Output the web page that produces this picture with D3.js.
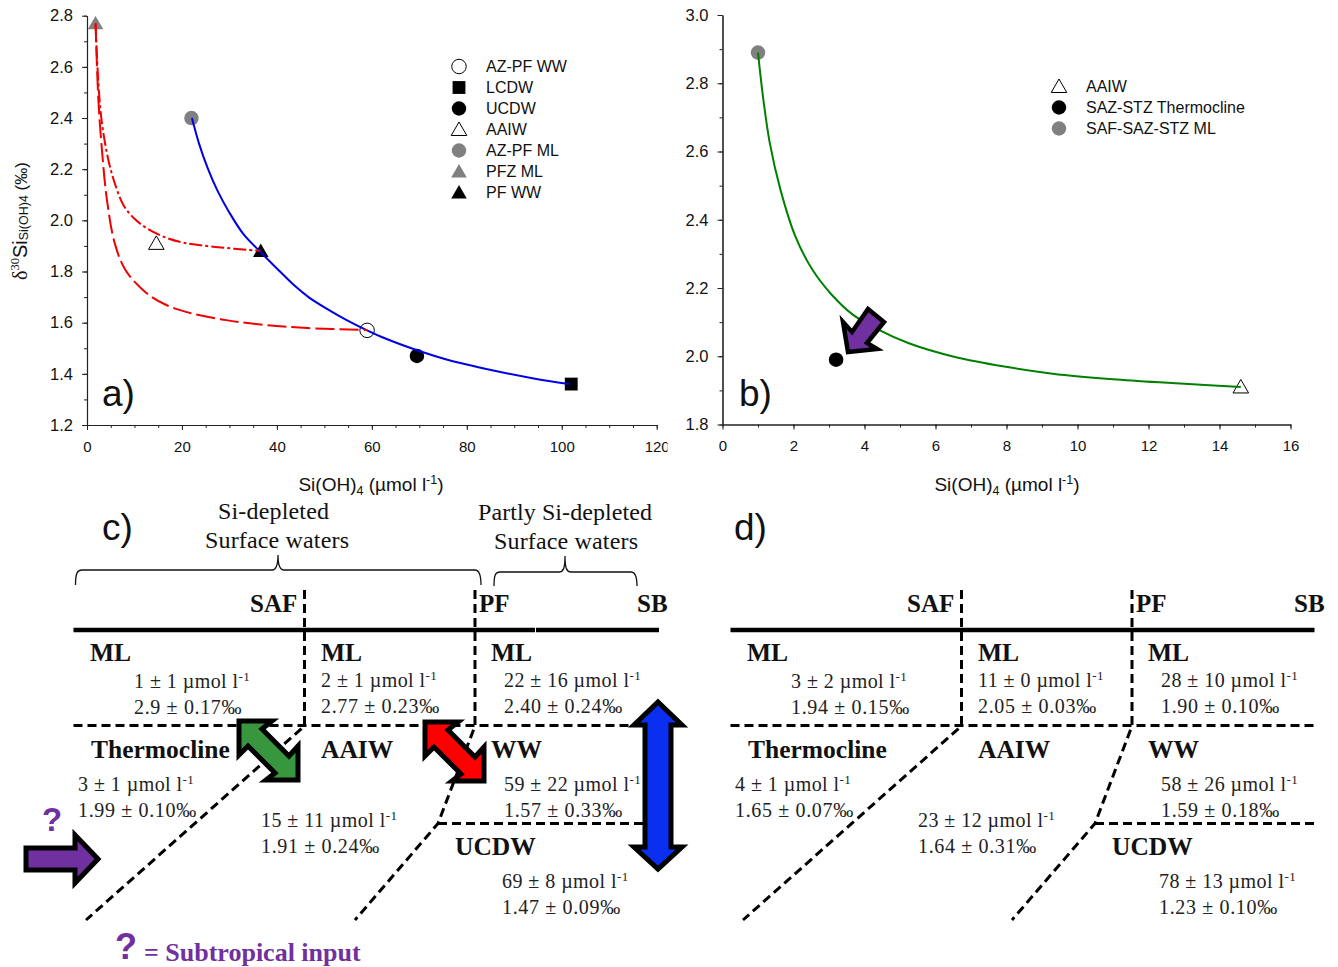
<!DOCTYPE html>
<html>
<head>
<meta charset="utf-8">
<script src="https://cdn.jsdelivr.net/npm/d3@7"></script>
<style>
body { margin: 0; background: #fff; }
svg { display: block; }
.sans { font-family: "Liberation Sans", Arial, sans-serif; }
.serif { font-family: "Liberation Serif", "Times New Roman", serif; }
</style>
</head>
<body>
<svg id="svg" width="1338" height="967"></svg>
<script>
// panel a values
var aBlueX = [22.1, 23.6, 25.4, 27.5, 30, 33, 36.5, 40.1, 43.7, 46.8, 50.9, 54.5, 59, 62.6, 69.4, 76.1, 85.1, 94.1, 101.5];
var aBlueY = [2.40, 2.30, 2.205, 2.115, 2.03, 1.945, 1.877, 1.81, 1.745, 1.698, 1.65, 1.612, 1.57, 1.54, 1.493, 1.454, 1.415, 1.382, 1.36];
var aDashDotX = [1.8, 2.4, 3.15, 4.5, 5.85, 7.66, 9.9, 12.6, 16.7, 20.3, 26.6, 36.5];
var aDashDotY = [2.77, 2.535, 2.38, 2.236, 2.145, 2.06, 2.008, 1.969, 1.932, 1.913, 1.897, 1.881];
var aDashX = [1.8, 2.4, 3.15, 4.2, 5.85, 8.1, 12.2, 16.7, 22.1, 29.3, 37.4, 46.4, 59];
var aDashY = [2.77, 2.47, 2.275, 2.08, 1.91, 1.806, 1.721, 1.669, 1.636, 1.61, 1.591, 1.579, 1.571];

var aNames = ["AZ-PF WW", "LCDW", "UCDW", "AAIW", "AZ-PF ML", "PFZ ML", "PF WW"];
var aPointX = [59, 102, 69.5, 14.6, 22, 1.8, 36.6];
var aPointY = [1.57, 1.36, 1.47, 1.91, 2.40, 2.77, 1.88];
var aShapes = ["circle", "square", "circle", "triangle", "circle", "triangle", "triangle"];
var aFills = ["none", "black", "black", "none", "gray", "gray", "black"];

// panel b values
var bGreenX = [1, 1.15, 1.33, 1.63, 2.05, 2.53, 3.07, 3.67, 4.39, 5.23, 6.55, 7.99, 9.3, 11.1, 12.9, 14.6];
var bGreenY = [2.89, 2.753, 2.626, 2.489, 2.352, 2.254, 2.181, 2.122, 2.078, 2.039, 1.998, 1.969, 1.949, 1.932, 1.92, 1.91];
var bNames = ["AAIW", "SAZ-STZ Thermocline", "SAF-SAZ-STZ ML"];
var bPointX = [14.6, 3.2, 1];
var bPointY = [1.91, 1.99, 2.89];
var bShapes = ["triangle", "circle", "circle"];
var bFills = ["none", "black", "gray"];

// schematics c and d
var waterNames = ["ML", "ML", "ML", "Thermocline", "AAIW", "WW", "UCDW"];
var frontNames = ["SAF", "PF", "SB"];
var cSilicate = ["1 ± 1", "2 ± 1", "22 ± 16", "3 ± 1", "15 ± 11", "59 ± 22", "69 ± 8"];
var cIsotope = ["2.9 ± 0.17‰", "2.77 ± 0.23‰", "2.40 ± 0.24‰", "1.99 ± 0.10‰", "1.91 ± 0.24‰", "1.57 ± 0.33‰", "1.47 ± 0.09‰"];
var dSilicate = ["3 ± 2", "11 ± 0", "28 ± 10", "4 ± 1", "23 ± 12", "58 ± 26", "78 ± 13"];
var dIsotope = ["1.94 ± 0.15‰", "2.05 ± 0.03‰", "1.90 ± 0.10‰", "1.65 ± 0.07‰", "1.64 ± 0.31‰", "1.59 ± 0.18‰", "1.23 ± 0.10‰"];

var svg = d3.select("#svg");
var symbolTypes = { circle: d3.symbolCircle, square: d3.symbolSquare, triangle: d3.symbolTriangle };
var symbolSizes = { circle: 165, square: 165, triangle: 105 };

function marker(g, shape, fill, x, y) {
  g.append("path")
    .attr("d", d3.symbol().type(symbolTypes[shape]).size(symbolSizes[shape])())
    .attr("transform", "translate(" + x + "," + (shape == "triangle" ? y + 1.5 : y) + ")")
    .attr("fill", fill == "none" ? "none" : (fill == "gray" ? "#808080" : "#000"))
    .attr("stroke", fill == "none" ? "#000" : "none")
    .attr("stroke-width", 1);
}

function drawAxes(x, y, xMajor, xMinor, yMajor, yMinor, yFmt) {
  var g = svg.append("g").attr("class", "sans");
  var bottom = y.range()[0], left = x.range()[0];
  var xa = g.append("g").attr("transform", "translate(0," + bottom + ")")
    .call(d3.axisBottom(x).tickValues(xMajor).tickSize(5).tickPadding(11).tickSizeOuter(0));
  g.append("g").attr("transform", "translate(0," + bottom + ")")
    .call(d3.axisBottom(x).tickValues(xMinor).tickSize(3).tickFormat("").tickSizeOuter(0));
  var ya = g.append("g").attr("transform", "translate(" + left + ",0)")
    .call(d3.axisLeft(y).tickValues(yMajor).tickFormat(yFmt).tickSize(5).tickPadding(9).tickSizeOuter(0));
  g.append("g").attr("transform", "translate(" + left + ",0)")
    .call(d3.axisLeft(y).tickValues(yMinor).tickSize(3).tickFormat("").tickSizeOuter(0));
  xa.selectAll("text").attr("font-size", 15);
  ya.selectAll("text").attr("font-size", 16.5);
  g.selectAll("text").attr("fill", "#111");
  g.selectAll("path.domain").attr("stroke", "#222").attr("stroke-width", 1.1);
  g.selectAll("line").attr("stroke", "#222");
}

function xTitle(cx) {
  var t = svg.append("text").attr("class", "sans").attr("x", cx).attr("y", 491)
    .attr("text-anchor", "middle").attr("font-size", 19).attr("fill", "#111");
  t.append("tspan").text("Si(OH)");
  t.append("tspan").attr("font-size", 12.5).attr("dy", 4).text("4");
  t.append("tspan").attr("dy", -4).text(" (µmol l");
  t.append("tspan").attr("font-size", 12.5).attr("dy", -7).text("-1");
  t.append("tspan").attr("dy", 7).text(")");
}

function curve(x, y, xs, ys, color, dash) {
  var pts = d3.zip(xs, ys);
  svg.append("path").datum(pts)
    .attr("d", d3.line().x(function(d) { return x(d[0]); }).y(function(d) { return y(d[1]); }).curve(d3.curveCatmullRom.alpha(0.5)))
    .attr("fill", "none").attr("stroke", color).attr("stroke-width", 2)
    .attr("stroke-dasharray", dash);
}

function points(x, y, xs, ys, shapes, fills) {
  var g = svg.append("g");
  xs.forEach(function(v, i) { marker(g, shapes[i], fills[i], x(v), y(ys[i])); });
}

function legend(names, shapes, fills, sx, tx, top) {
  var g = svg.append("g").attr("class", "sans");
  names.forEach(function(n, i) {
    marker(g, shapes[i], fills[i], sx, top + i * 21);
    g.append("text").attr("x", tx).attr("y", top + i * 21 + 5.5).attr("font-size", 16).attr("fill", "#111").text(n);
  });
}

function panelLetter(txt, x, y) {
  svg.append("text").attr("class", "sans").attr("x", x).attr("y", y).attr("font-size", 37).attr("fill", "#111").text(txt);
}

// panel a
var xA = d3.scaleLinear().domain([0, 120]).range([87, 656.7]);
var yA = d3.scaleLinear().domain([1.2, 2.8]).range([425, 15.7]);
drawAxes(xA, yA, d3.range(0, 121, 20), d3.range(0, 121, 5), d3.range(1.2, 2.81, 0.2), d3.range(1.2, 2.81, 0.1), d3.format(".1f"));
points(xA, yA, aPointX, aPointY, aShapes, aFills);
curve(xA, yA, aBlueX, aBlueY, "#0000e6", null);
curve(xA, yA, aDashDotX, aDashDotY, "#f00000", "13,3,3,3");
curve(xA, yA, aDashX, aDashY, "#f00000", "19,5");
legend(aNames, aShapes, aFills, 459, 486, 66.5);
xTitle(371);
panelLetter("a)", 102, 406);

// the last tick label is cut by the panel edge in the figure
svg.append("rect").attr("x", 667.5).attr("y", 438).attr("width", 12).attr("height", 20).attr("fill", "#fff");

var yt = svg.append("text").attr("class", "sans")
  .attr("transform", "translate(27,280) rotate(-90)")
  .attr("font-size", 20).attr("fill", "#111");
yt.append("tspan").attr("class", "serif").text("δ");
yt.append("tspan").attr("class", "serif").attr("font-size", 12.5).attr("dy", -8).text("30");
yt.append("tspan").attr("dy", 8).text("Si");
yt.append("tspan").attr("font-size", 12.5).attr("dy", 1).text("Si(OH)4");
yt.append("tspan").attr("dy", -1).attr("font-size", 17).text(" (‰)");

// panel b
var xB = d3.scaleLinear().domain([0, 16]).range([722.5, 1290.5]);
var yB = d3.scaleLinear().domain([1.8, 3.0]).range([424.5, 15]);
drawAxes(xB, yB, d3.range(0, 17, 2), d3.range(0, 17, 1), d3.range(1.8, 3.01, 0.2), d3.range(1.8, 3.01, 0.1), d3.format(".1f"));
points(xB, yB, bPointX, bPointY, bShapes, bFills);
curve(xB, yB, bGreenX, bGreenY, "#008000", null);
legend(bNames, bShapes, bFills, 1059, 1086, 86.5);
xTitle(1007);
panelLetter("b)", 739, 406);

// purple arrow over the green curve
svg.append("polygon")
  .attr("points", "843,322 852,332 868,309 884,322 867,343 877,349 848,352")
  .attr("fill", "#7030a0").attr("stroke", "#000").attr("stroke-width", 4.5);

// schematic panels, d is c moved right
var waterSlots = [[90, 661], [321, 661], [491, 661], [91, 758], [321, 758], [491, 758], [455, 855]];
var frontSlots = [250, 479, 637];
var valueSlots = [[134, 688], [321, 687], [504, 687], [78, 791], [261, 827], [504, 791], [502, 888]];

function schematic(dx, silicate, isotope, ruleBreak) {
  var g = svg.append("g").attr("transform", "translate(" + dx + ",0)").attr("class", "serif");

  function dashed(d) {
    g.append("path").attr("d", d).attr("fill", "none").attr("stroke", "#000")
      .attr("stroke-width", 3).attr("stroke-dasharray", "9,5");
  }
  g.append("line").attr("x1", 73.5).attr("x2", ruleBreak ? 659 : 657.5).attr("y1", 630).attr("y2", 630)
    .attr("stroke", "#000").attr("stroke-width", 4.5);
  if (ruleBreak) {
    g.append("line").attr("x1", 535.5).attr("x2", 535.5).attr("y1", 627).attr("y2", 633)
      .attr("stroke", "#fff").attr("stroke-width", 1);
  }
  dashed("M73.5,725.5H657");
  dashed("M438,823.5H657");
  dashed("M304.5,590V726L86,920");
  dashed("M475,590V726L438,823.5L355,920");

  waterNames.forEach(function(n, i) {
    g.append("text").attr("x", waterSlots[i][0]).attr("y", waterSlots[i][1])
      .attr("font-size", 25.5).attr("font-weight", "bold").attr("fill", "#111").text(n);
    var t = g.append("text").attr("x", valueSlots[i][0]).attr("y", valueSlots[i][1])
      .attr("font-size", 20).attr("letter-spacing", 0.45).attr("fill", "#222");
    t.append("tspan").text(silicate[i] + " µmol l");
    t.append("tspan").attr("font-size", 13).attr("dy", -7).text("-1");
    g.append("text").attr("x", valueSlots[i][0]).attr("y", valueSlots[i][1] + 26)
      .attr("font-size", 20).attr("letter-spacing", 0.65).attr("fill", "#222").text(isotope[i]);
  });
  frontNames.forEach(function(n, i) {
    g.append("text").attr("x", frontSlots[i]).attr("y", 612)
      .attr("font-size", 25).attr("font-weight", "bold").attr("fill", "#111").text(n);
  });
}
schematic(0, cSilicate, cIsotope, true);
schematic(657, dSilicate, dIsotope, false);
panelLetter("c)", 102, 540);
panelLetter("d)", 734, 540);

// braces and their captions
function brace(d) {
  svg.append("path").attr("d", d).attr("fill", "none").attr("stroke", "#111").attr("stroke-width", 1.3);
}
brace("M75.5,585C75.5,574 77,570 82,570H272C276,570 278,566 278,555C278,566 280,570 284,570H475C479,570 481,574 481,585");
brace("M494,586C494,576 495,572 500,572H559C563,572 565,569 565,556C565,569 567,572 571,572H631C635,572 637,576 637,586");
[["Si-depleted", 218, 518.5, 111], ["Surface waters", 205, 547.5, 144], ["Partly Si-depleted", 478, 519.5, 174], ["Surface waters", 494, 548.5, 144]].forEach(function(c) {
  svg.append("text").attr("class", "serif").attr("x", c[1]).attr("y", c[2])
    .attr("font-size", 24).attr("textLength", c[3]).attr("fill", "#111").text(c[0]);
});

// exchange arrows
var exchangeArrow = "M239,721H272L262,729L289,756L298,746V780H266L275,773L248,746L239,755Z";
svg.append("path").attr("d", exchangeArrow).attr("fill", "#38963f").attr("stroke", "#000").attr("stroke-width", 5);
svg.append("path").attr("d", exchangeArrow).attr("transform", "translate(186,1)").attr("fill", "#f00").attr("stroke", "#000").attr("stroke-width", 5);
svg.append("path")
  .attr("d", "M658,702L682,725H671V847H682L658,869L634,847H645V725H634Z")
  .attr("fill", "#0a2ff0").attr("stroke", "#000").attr("stroke-width", 5);
svg.append("path")
  .attr("d", "M26,848H75V835L98,859L75,883V870H26Z")
  .attr("fill", "#7030a0").attr("stroke", "#000").attr("stroke-width", 5);

// subtropical input note
svg.append("text").attr("class", "sans").attr("x", 42).attr("y", 831).attr("font-size", 33)
  .attr("font-weight", "bold").attr("fill", "#7030a0").text("?");
svg.append("text").attr("class", "sans").attr("x", 115).attr("y", 959).attr("font-size", 36)
  .attr("font-weight", "bold").attr("fill", "#7030a0").text("?");
svg.append("text").attr("class", "serif").attr("x", 144).attr("y", 961).attr("font-size", 26)
  .attr("font-weight", "bold").attr("fill", "#7030a0").text("= Subtropical input");
</script>
</body>
</html>
